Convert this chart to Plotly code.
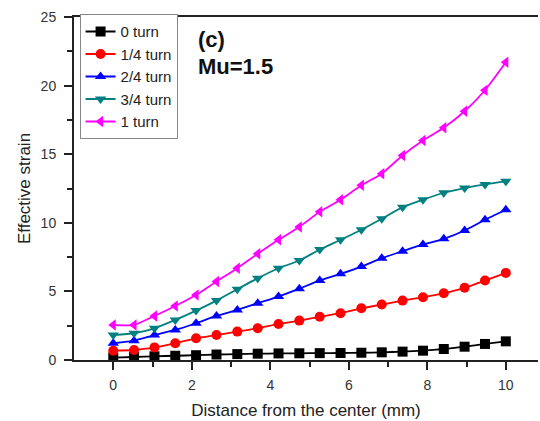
import plotly.graph_objects as go

x_mm = [0, 0.53, 1.05, 1.58, 2.11, 2.63, 3.16, 3.68, 4.21, 4.74,
        5.26, 5.79, 6.32, 6.84, 7.37, 7.89, 8.42, 8.95, 9.47, 10]

turn_0 = [0.18, 0.22, 0.27, 0.31, 0.35, 0.40, 0.43, 0.46, 0.48, 0.49,
          0.50, 0.51, 0.53, 0.56, 0.61, 0.68, 0.80, 0.97, 1.17, 1.36]
turn_1_4 = [0.68, 0.73, 0.92, 1.22, 1.58, 1.82, 2.07, 2.31, 2.63, 2.87,
            3.15, 3.41, 3.77, 4.04, 4.33, 4.57, 4.87, 5.26, 5.79, 6.35]
turn_2_4 = [1.22, 1.41, 1.82, 2.19, 2.68, 3.21, 3.65, 4.14, 4.62, 5.20,
            5.80, 6.28, 6.81, 7.42, 7.93, 8.42, 8.83, 9.44, 10.22, 10.95]
turn_3_4 = [1.82, 1.95, 2.31, 2.92, 3.60, 4.33, 5.16, 5.96, 6.69, 7.25,
            8.05, 8.76, 9.49, 10.29, 11.14, 11.68, 12.19, 12.53, 12.80, 13.02]
turn_1 = [2.55, 2.55, 3.21, 3.94, 4.74, 5.72, 6.69, 7.74, 8.76, 9.70,
          10.80, 11.68, 12.73, 13.58, 14.91, 16.00, 16.93, 18.13, 19.66, 21.70]

series_names = ["0 turn", "1/4 turn", "2/4 turn", "3/4 turn", "1 turn"]
series_values = [turn_0, turn_1_4, turn_2_4, turn_3_4, turn_1]
series_colors = ["#000000", "#FF0000", "#0000FF", "#008080", "#FF00FF"]
series_symbols = ["square", "circle", "triangle-up", "triangle-down", "triangle-left"]

x_ticks = [0, 2, 4, 6, 8, 10]
y_ticks = [0, 5, 10, 15, 20, 25]

fig = go.Figure()
for name, vals, col, sym in zip(series_names, series_values, series_colors, series_symbols):
    fig.add_trace(go.Scatter(
        x=x_mm, y=vals, name=name, mode="lines+markers",
        line=dict(color=col, width=1.8, shape="spline", smoothing=0.5),
        marker=dict(symbol=sym, size=10, color=col, line=dict(width=0)),
    ))

axis_col = "#222222"
fig.update_layout(
    width=540, height=421,
    margin=dict(l=74, r=2, t=17, b=61),
    paper_bgcolor="white", plot_bgcolor="white",
    font=dict(family="Arial, Liberation Sans, sans-serif", color="#333333", size=14),
    showlegend=True,
    legend=dict(
        x=0.012, y=1.008, xanchor="left", yanchor="top",
        bgcolor="white", bordercolor="#888888", borderwidth=1,
        font=dict(size=15, color="#222222"),
        tracegroupgap=0, itemwidth=30,
    ),
    xaxis=dict(
        range=[-1, 10.82], tickvals=x_ticks, ticks="outside", ticklen=8, tickwidth=2,
        tickcolor=axis_col, showline=True, linecolor=axis_col, linewidth=2,
        mirror=True, showgrid=False, zeroline=False, ticklabelstandoff=3,
        minor=dict(tickvals=[1, 3, 5, 7, 9], ticks="outside", ticklen=5, tickwidth=2, tickcolor=axis_col),
        title=dict(text="Distance from the center (mm)", font=dict(size=17, color="#222222"), standoff=12),
        tickfont=dict(size=14, color="#333333"),
    ),
    yaxis=dict(
        range=[0, 25], tickvals=y_ticks, ticks="outside", ticklen=8, tickwidth=2,
        tickcolor=axis_col, showline=True, linecolor=axis_col, linewidth=2,
        showgrid=False, zeroline=False, ticklabelstandoff=5,
        minor=dict(tickvals=[2.5, 7.5, 12.5, 17.5, 22.5], ticks="outside", ticklen=5, tickwidth=2, tickcolor=axis_col),
        title=dict(text="Effective strain", font=dict(size=17, color="#222222"), standoff=6),
        tickfont=dict(size=14, color="#333333"),
    ),
    annotations=[
        dict(text="<b>(c)</b>", xref="paper", yref="paper", x=0.262, y=0.935,
             xanchor="left", yanchor="middle", showarrow=False,
             font=dict(size=22, color="#111111")),
        dict(text="<b>Mu=1.5</b>", xref="paper", yref="paper", x=0.262, y=0.855,
             xanchor="left", yanchor="middle", showarrow=False,
             font=dict(size=22, color="#111111")),
    ],
)

fig.write_html("out.html")
